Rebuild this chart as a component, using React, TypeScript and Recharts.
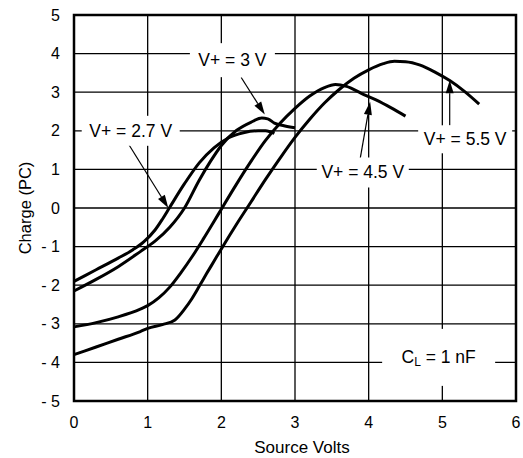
import React from 'react';
import {
  LineChart,
  Line,
  XAxis,
  YAxis,
  CartesianGrid,
  ReferenceArea,
  ReferenceDot,
  ReferenceLine,
} from 'recharts';

// axis ticks
const xTicks = [0, 1, 2, 3, 4, 5, 6];
const yTicks = [-5, -4, -3, -2, -1, 0, 1, 2, 3, 4, 5];

// charge vs source volts, one array per supply voltage
const v27 = [
  { x: 0, y: -1.9 }, { x: 0.3, y: -1.6 }, { x: 0.6, y: -1.3 }, { x: 0.8, y: -1.08 },
  { x: 0.95, y: -0.87 }, { x: 1.1, y: -0.57 }, { x: 1.2, y: -0.29 }, { x: 1.3, y: 0.02 },
  { x: 1.5, y: 0.63 }, { x: 1.7, y: 1.17 }, { x: 1.9, y: 1.56 }, { x: 2.1, y: 1.82 },
  { x: 2.3, y: 1.95 }, { x: 2.5, y: 2.0 }, { x: 2.6, y: 2.0 }, { x: 2.72, y: 1.93 },
];

const v3 = [
  { x: 0, y: -2.15 }, { x: 0.3, y: -1.85 }, { x: 0.6, y: -1.52 }, { x: 0.9, y: -1.13 },
  { x: 1.1, y: -0.86 }, { x: 1.3, y: -0.5 }, { x: 1.5, y: 0.0 }, { x: 1.7, y: 0.72 },
  { x: 1.85, y: 1.2 }, { x: 2.0, y: 1.62 }, { x: 2.2, y: 2.0 }, { x: 2.4, y: 2.22 },
  { x: 2.55, y: 2.33 }, { x: 2.63, y: 2.31 }, { x: 2.72, y: 2.2 }, { x: 2.85, y: 2.13 },
  { x: 3.0, y: 2.08 },
];

const v45 = [
  { x: 0, y: -3.08 }, { x: 0.3, y: -2.97 }, { x: 0.6, y: -2.82 }, { x: 0.9, y: -2.62 },
  { x: 1.0, y: -2.53 }, { x: 1.15, y: -2.33 }, { x: 1.3, y: -2.05 }, { x: 1.45, y: -1.68 },
  { x: 1.6, y: -1.27 }, { x: 1.75, y: -0.82 }, { x: 1.9, y: -0.35 }, { x: 2.0, y: -0.03 },
  { x: 2.2, y: 0.6 }, { x: 2.4, y: 1.2 }, { x: 2.6, y: 1.75 }, { x: 2.8, y: 2.2 },
  { x: 3.0, y: 2.58 }, { x: 3.2, y: 2.9 }, { x: 3.4, y: 3.12 }, { x: 3.55, y: 3.2 },
  { x: 3.7, y: 3.15 }, { x: 3.9, y: 2.97 }, { x: 4.1, y: 2.8 }, { x: 4.3, y: 2.6 },
  { x: 4.5, y: 2.38 },
];

const v55 = [
  { x: 0, y: -3.8 }, { x: 0.3, y: -3.6 }, { x: 0.6, y: -3.4 }, { x: 0.9, y: -3.2 },
  { x: 1.0, y: -3.12 }, { x: 1.2, y: -3.02 }, { x: 1.37, y: -2.9 }, { x: 1.5, y: -2.62 },
  { x: 1.6, y: -2.35 }, { x: 1.7, y: -2.03 }, { x: 1.8, y: -1.7 }, { x: 1.9, y: -1.38 },
  { x: 2.0, y: -1.06 }, { x: 2.2, y: -0.44 }, { x: 2.4, y: 0.15 }, { x: 2.6, y: 0.74 },
  { x: 2.8, y: 1.3 }, { x: 3.0, y: 1.83 }, { x: 3.2, y: 2.3 }, { x: 3.4, y: 2.72 },
  { x: 3.6, y: 3.07 }, { x: 3.8, y: 3.36 }, { x: 4.0, y: 3.58 }, { x: 4.2, y: 3.74 },
  { x: 4.35, y: 3.8 }, { x: 4.5, y: 3.79 }, { x: 4.7, y: 3.7 }, { x: 4.9, y: 3.52 },
  { x: 5.1, y: 3.3 }, { x: 5.3, y: 3.02 }, { x: 5.5, y: 2.69 },
];

const FONT = '"Liberation Sans", Arial, Helvetica, sans-serif';

const fmtY = (v: number) => (v < 0 ? `- ${Math.abs(v)}` : `${v}`);

// white box with text, used for the curve labels
const boxLabel = (w: number, h: number, text: React.ReactNode) => (props: any) => {
  const { cx, cy } = props;
  return (
    <g>
      <rect x={cx - w / 2} y={cy - h / 2} width={w} height={h} fill="#fff" />
      <text
        x={cx}
        y={cy}
        textAnchor="middle"
        dominantBaseline="central"
        fontSize={17.5}
        fontFamily={FONT}
        fill="#000"
      >
        {text}
      </text>
    </g>
  );
};

const Arrow = (props: any) => {
  const { x1, y1, x2, y2 } = props;
  const a = Math.atan2(y2 - y1, x2 - x1);
  const len = 13;
  const half = 4;
  const bx = x2 - len * Math.cos(a);
  const by = y2 - len * Math.sin(a);
  const px = -Math.sin(a) * half;
  const py = Math.cos(a) * half;
  return (
    <g>
      <line x1={x1} y1={y1} x2={bx} y2={by} stroke="#000" strokeWidth={1.2} />
      <polygon points={`${x2},${y2} ${bx + px},${by + py} ${bx - px},${by - py}`} fill="#000" />
    </g>
  );
};

const curve = { stroke: '#000', strokeWidth: 3, dot: false, isAnimationActive: false } as const;

export default function App() {
  return (
    <div style={{ position: 'absolute', left: 0, top: 0, width: 523, height: 458, background: '#fff' }}>
      <LineChart width={523} height={458} margin={{ top: 15, right: 7, bottom: 0, left: 0 }}>
        <CartesianGrid stroke="#000" strokeWidth={1.3} />
        <XAxis
          type="number"
          dataKey="x"
          domain={[0, 6]}
          ticks={xTicks}
          axisLine={false}
          tickLine={false}
          tickSize={0}
          tickMargin={16}
          height={57}
          tick={{ fill: '#000', fontSize: 16, fontFamily: FONT }}
          label={{ value: 'Source Volts', position: 'center', dx: 7, dy: 17, fill: '#000', fontSize: 17, fontFamily: FONT }}
        />
        <YAxis
          type="number"
          domain={[-5, 5]}
          ticks={yTicks}
          tickFormatter={fmtY}
          axisLine={false}
          tickLine={false}
          tickSize={0}
          tickMargin={14}
          width={74}
          tick={{ fill: '#000', fontSize: 16, fontFamily: FONT }}
          label={{ value: 'Charge (PC)', angle: -90, position: 'center', dx: -12, fill: '#000', fontSize: 16.5, fontFamily: FONT }}
        />

        <ReferenceLine segment={[{ x: 0.71, y: 1.75 }, { x: 1.28, y: 0.0 }]} shape={Arrow} />
        <ReferenceLine segment={[{ x: 2.27, y: 3.38 }, { x: 2.59, y: 2.42 }]} shape={Arrow} />
        <ReferenceLine segment={[{ x: 3.88, y: 1.23 }, { x: 4.02, y: 2.75 }]} shape={Arrow} />
        <ReferenceLine segment={[{ x: 5.1, y: 2.14 }, { x: 5.1, y: 3.31 }]} shape={Arrow} />

        <ReferenceDot x={0.77} y={2.0} r={0} shape={boxLabel(98, 30, 'V+ = 2.7 V')} />
        <ReferenceDot x={2.15} y={3.83} r={0} shape={boxLabel(85, 34, 'V+ = 3 V')} />
        <ReferenceDot x={3.92} y={0.92} r={0} shape={boxLabel(92, 30, 'V+ = 4.5 V')} />
        <ReferenceDot x={5.31} y={1.78} r={0} shape={boxLabel(94, 28, 'V+ = 5.5 V')} />
        <ReferenceDot
          x={4.95}
          y={-3.87}
          r={0}
          shape={boxLabel(113, 57, (
            <>
              <tspan>C</tspan>
              <tspan fontSize={12} dy={5}>L</tspan>
              <tspan dy={-5}> = 1 nF</tspan>
            </>
          ))}
        />

        <Line data={v27} dataKey="y" type="monotone" {...curve} />
        <Line data={v3} dataKey="y" type="monotone" {...curve} />
        <Line data={v45} dataKey="y" type="monotone" {...curve} />
        <Line data={v55} dataKey="y" type="monotone" {...curve} />

        <ReferenceArea x1={0} x2={6} y1={-5} y2={5} fill="none" stroke="#000" strokeWidth={2.5} />
      </LineChart>
    </div>
  );
}
